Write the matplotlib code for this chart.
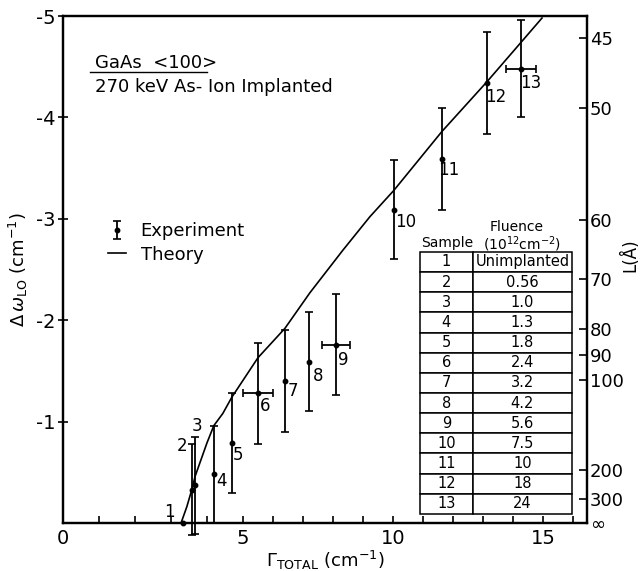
import matplotlib
matplotlib.use('Agg')
import matplotlib.pyplot as plt
from matplotlib.lines import Line2D
import numpy as np

plt.rcParams['axes.unicode_minus'] = False
plt.rcParams['font.family'] = 'DejaVu Sans'

# experiment, one entry per sample
samples = ['1', '2', '3', '4', '5', '6', '7', '8', '9', '10', '11', '12', '13']
fluence = ['Unimplanted', '0.56', '1.0', '1.3', '1.8', '2.4', '3.2', '4.2', '5.6', '7.5', '10', '18', '24']
gamma = [3.33, 3.58, 3.67, 4.19, 4.69, 5.5, 6.4, 7.2, 8.1, 10.03, 11.63, 13.13, 14.27]
gamma_err = [0, 0, 0, 0, 0, 0.5, 0, 0, 0.47, 0, 0, 0, 0.5]
shift = [0, -0.33, -0.37, -0.48, -0.79, -1.28, -1.40, -1.59, -1.76, -3.09, -3.59, -4.34, -4.48]
shift_err = [0, 0.45, 0.48, 0.48, 0.49, 0.5, 0.5, 0.49, 0.5, 0.49, 0.5, 0.5, 0.48]

# theory curve
theory_x = [3.28, 3.44, 3.58, 3.67, 3.81, 4.0, 4.19, 4.44, 4.69, 5.5, 6.4, 7.23,
            8.33, 9.23, 10.03, 11.63, 13.13, 14.27, 14.97]
theory_y = [0, -0.16, -0.33, -0.46, -0.60, -0.79, -0.96, -1.08, -1.24, -1.63, -1.92, -2.27,
            -2.69, -3.02, -3.28, -3.86, -4.35, -4.74, -4.98]

# right axis: correlation length L (A) against the shift
L_labels = ['45', '50', '60', '70', '80', '90', '100', '200', '300', '∞']
L_pos = [-4.78, -4.09, -2.99, -2.41, -1.91, -1.66, -1.41, -0.52, -0.24, 0]

# where the sample numbers sit relative to their point (pixels, x right / y up)
label_off = [(-13, 11), (-10, 44), (2, 59), (8, -7), (6, -12), (7, -13), (8, -10),
             (9, -14), (7, -15), (12, -12), (7, -11), (9, -14), (10, -14)]


# the drawn axis is a bit stretched below 5 cm-1
def fwd(v):
    v = np.asarray(v, dtype=float)
    return np.where(v <= 5, v * 36.0, 180.0 + (v - 5) * 30.0)


def inv(u):
    u = np.asarray(u, dtype=float)
    return np.where(u <= 180, u / 36.0, 5 + (u - 180) / 30.0)


fig = plt.figure(figsize=(6.4, 5.71), dpi=100)
ax = fig.add_axes([63 / 640, 1 - 523 / 571, 524 / 640, 507 / 571])
ax.set_xscale('function', functions=(fwd, inv))
ax.set_xlim(0, 16.47)
ax.set_ylim(0, -5)

gx = np.array(gamma)
gy = np.array(shift)
gxe = np.array(gamma_err)
gye = np.array(shift_err)

ax.plot(theory_x, theory_y, color='black', lw=1.2, label='Theory', zorder=2)

my = gye > 0
eb = ax.errorbar(gx[my], gy[my], yerr=gye[my], fmt='o', ms=3.2, color='black',
                 elinewidth=1.3, capsize=3, capthick=1.2, label='Experiment', zorder=3)
for art in eb.lines[1] + eb.lines[2]:
    art.set_clip_on(False)
ax.plot(gx[~my], gy[~my], 'o', ms=3.2, color='black', clip_on=False, zorder=3)
mx = gxe > 0
ax.errorbar(gx[mx], gy[mx], xerr=gxe[mx], fmt='none', ecolor='black',
            elinewidth=1.3, capsize=3, capthick=1.2, zorder=3)

for s, x, y, (dx, dy) in zip(samples, gamma, shift, label_off):
    ax.annotate(s, (x, y), xytext=(dx * 0.72, dy * 0.72), textcoords='offset points',
                ha='center', va='center', fontsize=12)

ax.set_xticks([0, 5, 10, 15])
ax.set_xticks([1, 2, 3, 4, 6, 7, 8, 9, 11, 12, 13, 14, 16], minor=True)
ax.set_yticks([-5, -4, -3, -2, -1])
ax.tick_params(axis='x', which='both', direction='in', length=5, width=1.2, labelsize=14, pad=4)
ax.tick_params(axis='y', direction='inout', length=7, width=1.2, labelsize=14, pad=2)
for sp in ax.spines.values():
    sp.set_linewidth(1.6)

ax.set_xlabel(r'$\Gamma_{\rm TOTAL}$ (cm$^{-1}$)', fontsize=13, labelpad=1)
ax.set_ylabel(r'$\Delta\,\omega_{\rm LO}$ (cm$^{-1}$)', fontsize=13, labelpad=4)

ax2 = ax.twinx()
ax2.set_ylim(ax.get_ylim())
ax2.set_yticks(L_pos)
ax2.set_yticklabels(L_labels)
ax2.tick_params(axis='y', direction='in', length=6, width=1.2, labelsize=13, pad=2)
ax2.set_ylabel('L(Å)', fontsize=12, va='center', ha='center')
ax2.yaxis.set_label_coords(1.082, 0.529)
for sp in ax2.spines.values():
    sp.set_linewidth(1.6)

ax.text(0.061, 0.907, 'GaAs  <100>', transform=ax.transAxes, fontsize=13, va='center')
ax.plot([0.0515, 0.275], [0.8895, 0.8895], transform=ax.transAxes, color='black', lw=1)
ax.text(0.061, 0.860, '270 keV As- Ion Implanted', transform=ax.transAxes, fontsize=13, va='center')

handles = [eb, Line2D([], [], color='black', lw=1.2)]
ax.legend(handles, ['Experiment', 'Theory'], frameon=False, fontsize=13, loc='upper left',
          bbox_to_anchor=(0.055, 0.625), handlelength=1.0, handletextpad=0.8, labelspacing=0.3)

# fluence table
rows = [[s, f] for s, f in zip(samples, fluence)]
tab = ax.table(cellText=rows, cellLoc='center', colWidths=[53, 99],
               bbox=[0.681, 0.0178, 0.290, 0.517])
tab.auto_set_font_size(False)
tab.set_fontsize(10.5)
for cell in tab.get_celld().values():
    cell.set_linewidth(1.1)
ax.text(0.733, 0.552, 'Sample', transform=ax.transAxes, fontsize=10, ha='center', va='center')
ax.text(0.866, 0.584, 'Fluence', transform=ax.transAxes, fontsize=10, ha='center', va='center')
ax.text(0.876, 0.550, r'(10$^{12}$cm$^{-2}$)', transform=ax.transAxes, fontsize=10,
        ha='center', va='center')

fig.savefig('out.png', dpi=100)
